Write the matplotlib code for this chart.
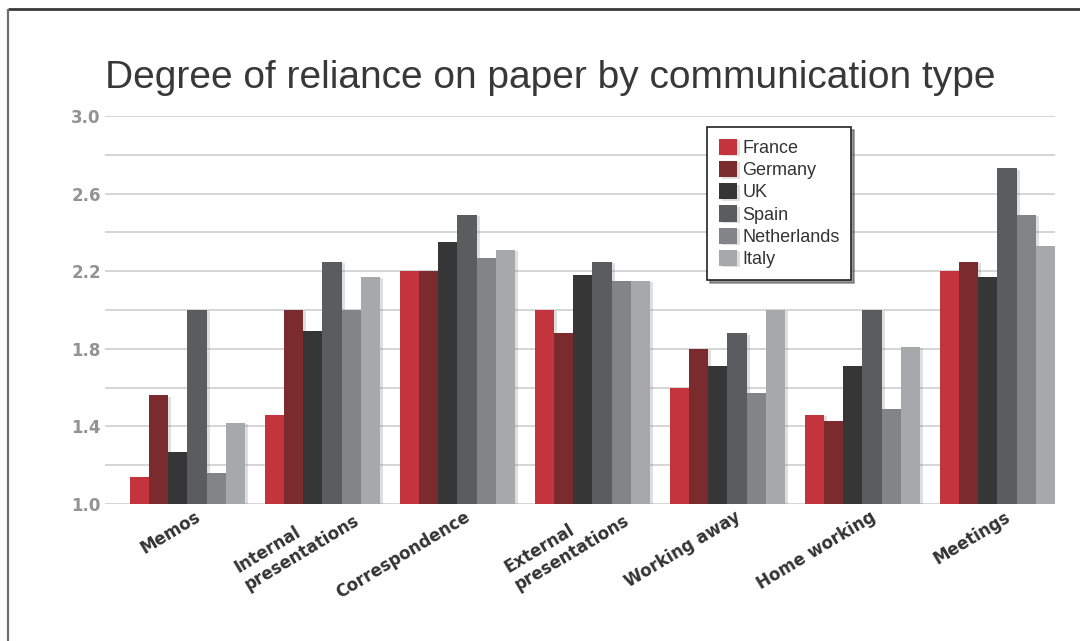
import matplotlib
matplotlib.use("Agg")
import matplotlib.pyplot as plt
import matplotlib.patheffects as pe
from matplotlib.lines import Line2D
import numpy as np

# Communication types along the x axis
categories = ["Memos", "Internal\npresentations", "Correspondence",
              "External\npresentations", "Working away", "Home working", "Meetings"]

# Degree of reliance on paper, one list per country
france      = [1.14, 1.46, 2.20, 2.00, 1.60, 1.46, 2.20]
germany     = [1.56, 2.00, 2.20, 1.88, 1.80, 1.43, 2.25]
uk          = [1.27, 1.89, 2.35, 2.18, 1.71, 1.71, 2.17]
spain       = [2.00, 2.25, 2.49, 2.25, 1.88, 2.00, 2.73]
netherlands = [1.16, 2.00, 2.27, 2.15, 1.57, 1.49, 2.49]
italy       = [1.42, 2.17, 2.31, 2.15, 2.00, 1.81, 2.33]

countries = ["France", "Germany", "UK", "Spain", "Netherlands", "Italy"]
series = [france, germany, uk, spain, netherlands, italy]
colors = ["#c4343c", "#7b2a2e", "#363636", "#5b5c5f", "#838487", "#a7a8ab"]

y_ticks = [1.0, 1.4, 1.8, 2.2, 2.6, 3.0]

W, H = 1080, 641
fig = plt.figure(figsize=(W / 100, H / 100), dpi=100)
fig.patch.set_facecolor("white")

# Page frame (top and left edges)
fig.add_artist(Line2D([8 / W, 1.0], [1 - 9 / H, 1 - 9 / H], transform=fig.transFigure,
                      color="#3a3a3a", lw=2.0, solid_capstyle="butt"))
fig.add_artist(Line2D([8 / W, 8 / W], [0.0, 1 - 9 / H], transform=fig.transFigure,
                      color="#6e6e6e", lw=1.6, solid_capstyle="butt"))

ax = fig.add_axes([105 / W, 1 - 504 / H, 950 / W, 388 / H])

n = len(series)
bw = 0.1425
x = np.arange(len(categories))
shadow = [pe.SimplePatchShadow(offset=(2, -1), shadow_rgbFace="0.5", alpha=0.25), pe.Normal()]
for i, (vals, col, name) in enumerate(zip(series, colors, countries)):
    pos = x + (i - (n - 1) / 2) * bw
    heights = np.array(vals) - 1.0
    bars = ax.bar(pos, heights, width=bw, bottom=1.0, color=col, label=name,
                  zorder=3, linewidth=0)
    for b in bars:
        b.set_path_effects(shadow)

ax.set_ylim(1.0, 3.0)
ax.set_xlim(-0.611, 6.426)

# Horizontal gridlines every 0.2
ax.set_yticks(np.arange(1.0, 3.01, 0.2), minor=True)
ax.set_yticks(y_ticks)
ax.set_yticklabels([f"{v:.1f}" for v in y_ticks], fontsize=12, fontweight="bold",
                   color="#939393", family="DejaVu Sans")
ax.grid(axis="y", which="both", color="#cacaca", lw=1.1, zorder=0)
ax.tick_params(axis="y", which="both", length=0, pad=3)
ax.tick_params(axis="x", which="both", length=0)
for s in ax.spines.values():
    s.set_visible(False)

# Category labels, rotated
ax.set_xticks([])
for xi, lab in zip(x, categories):
    two_line = "\n" in lab
    dx = 0.15 if two_line else 0.05
    dy = 10 if two_line else -4
    ax.annotate(lab, xy=(xi + dx, 0), xycoords=("data", "axes fraction"),
                xytext=(0, dy), textcoords="offset pixels",
                rotation=31, rotation_mode="anchor", ha="right", va="top",
                multialignment="left", linespacing=1.2,
                fontsize=12, fontweight="bold", color="#333333", family="DejaVu Sans")

# Title
fig.text(105 / W, 1 - 88 / H, "Degree of reliance on paper by communication type",
         fontsize=28, color="#383838", family="Liberation Sans", va="baseline", ha="left")

leg = ax.legend(loc="upper left", bbox_to_anchor=(707 / W, 1 - 127 / H),
                bbox_transform=fig.transFigure, borderaxespad=0,
                prop={"family": "Liberation Sans", "size": 13},
                handlelength=1.0, handleheight=1.0, handletextpad=0.3,
                labelspacing=0.22, borderpad=0.65, fancybox=False, framealpha=1,
                edgecolor="#222222", shadow={"color": "0.35", "alpha": 0.6})
leg.get_frame().set_linewidth(1.2)
for t in leg.get_texts():
    t.set_color("#333333")

fig.savefig("out.png", dpi=100, facecolor="white")
